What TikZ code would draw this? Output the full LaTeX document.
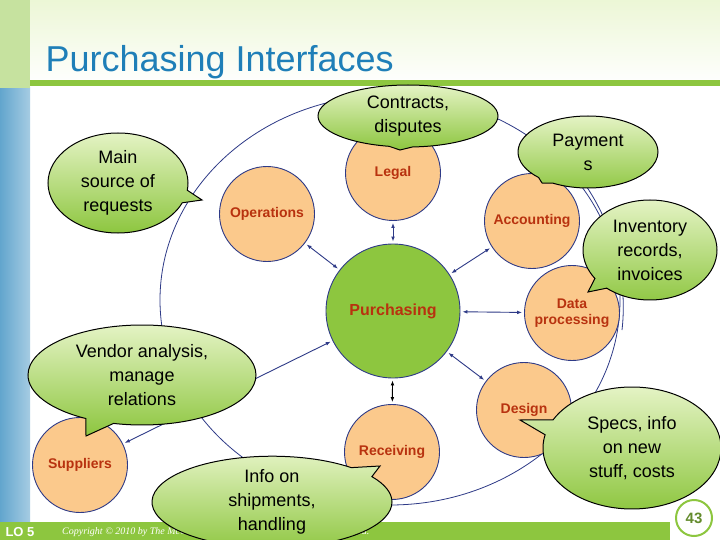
\documentclass[tikz,border=0pt]{standalone}
\usepackage{fontspec}
\setmainfont{Liberation Sans}
\usetikzlibrary{shapes.callouts,shapes.geometric,arrows.meta}
\definecolor{orng}{HTML}{FBC98C}
\definecolor{grn}{HTML}{8DC63F}
\definecolor{lgrn}{HTML}{E4F3C4}
\definecolor{dblue}{HTML}{2E3A87}
\definecolor{txtred}{HTML}{B8320F}
\definecolor{ttl}{HTML}{1F7FB8}
\begin{document}
\begin{tikzpicture}[x=1pt,y=-1pt,
  dept/.style={circle,draw=dblue,line width=0.9pt,fill=orng,minimum size=#1,inner sep=0pt,
     font=\bfseries\fontsize{14}{16}\selectfont,text=txtred,align=center},
  dept/.default=95pt,
  call/.style={ellipse callout,draw=black,line width=1pt,top color=lgrn,bottom color=grn,
     font=\fontsize{18}{24}\selectfont,align=center,inner sep=0pt},
  link/.style={{Latex[length=5pt]}-{Latex[length=5pt]},dblue,line width=0.9pt,shorten <=2pt,shorten >=2pt}]
\useasboundingbox (0,0) rectangle (720,540);
% background
\fill[top color=lgrn!70,bottom color=white] (0,0) rectangle (720,85);
\fill[white] (0,85) rectangle (720,540);
\fill[left color=ttl!70,right color=ttl!40] (0,88) rectangle (30,522);
\fill[grn] (30,80) rectangle (720,86);
\fill[grn!50] (0,0) rectangle (30,88);
\fill[grn] (0,522) rectangle (670,540);
\node[anchor=west,text=ttl,font=\fontsize{36}{40}\selectfont] (title) at (42,62) {Purchasing Interfaces};
\node[anchor=west,text=white,font=\bfseries\fontsize{13}{15}\selectfont] (lo) at (2,532) {LO 5};
\node[anchor=west,text=white,font=\itshape\fontsize{10}{12}\selectfont,inner sep=0pt] (copy) at (62,532)
  {\fontspec{Liberation Serif}\itshape Copyright © 2010 by The McGraw-Hill Companies, Inc. All rights reserved.};
\node[circle,draw=grn,line width=2pt,fill=white,minimum size=36pt,text=grn!70!black,
  font=\bfseries\fontsize{15}{17}\selectfont] (pg) at (694,518) {43};
% big ring
\draw[dblue,line width=0.8pt] (390,300) ellipse (230pt and 205pt);
\draw[dblue,line width=0.8pt] (555,150) .. controls (600,190) and (630,260) .. (622,330);
% departments
\node[dept] (legal) at (393,173) {Legal};
\node[dept] (ops) at (267,214) {Operations};
\node[dept] (acc) at (532,221) {Accounting};
\node[dept=134pt,fill=grn,font=\bfseries\fontsize{16}{18}\selectfont] (pur) at (393,311) {Purchasing};
\node[dept] (data) at (572,313) {Data\\processing};
\node[dept] (des) at (524,410) {Design};
\node[dept] (rec) at (392,452) {Receiving};
\node[dept] (sup) at (80,465) {Suppliers};
\draw[link] (pur) -- (legal);
\draw[link] (pur) -- (ops);
\draw[link] (pur) -- (acc);
\draw[link] (pur) -- (data);
\draw[link] (pur) -- (des);
\draw[link,black] (pur) -- (rec);
\draw[link] (pur) -- (sup);
% callouts
\node[call,minimum width=180pt,minimum height=62pt,callout absolute pointer={(400,150)}] (c1) at (408,116) {Contracts,\\disputes};
\node[call,minimum width=140pt,minimum height=100pt,callout absolute pointer={(202,200)}] (c2) at (118,183) {Main\\source of\\requests};
\node[call,minimum width=140pt,minimum height=72pt,callout absolute pointer={(542,183)}] (c3) at (588,152) {Payment\\s};
\node[call,minimum width=134pt,minimum height=100pt,callout absolute pointer={(588,292)}] (c4) at (650,250) {Inventory\\records,\\invoices};
\node[call,minimum width=228pt,minimum height=100pt,callout absolute pointer={(86,436)}] (c5) at (142,375) {Vendor analysis,\\manage\\relations};
\node[call,minimum width=240pt,minimum height=90pt,callout absolute pointer={(380,466)}] (c6) at (272,502) {Info on\\shipments,\\handling};
\node[call,minimum width=178pt,minimum height=122pt,callout absolute pointer={(520,420)}] (c7) at (632,448) {Specs, info\\on new\\stuff, costs};
\end{tikzpicture}
\end{document}
